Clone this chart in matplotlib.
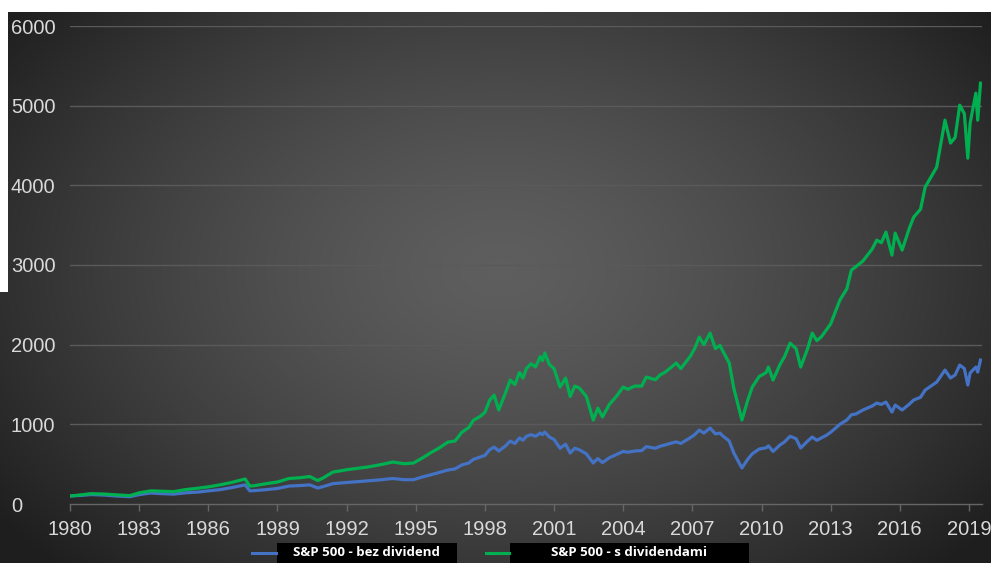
import numpy as np
import matplotlib
matplotlib.use("Agg")
import matplotlib.pyplot as plt
from matplotlib.patches import Rectangle
from matplotlib.lines import Line2D

# ---------------- data ----------------
years = [1980.0, 1980.5, 1980.9, 1981.5, 1982.0, 1982.6, 1983.0, 1983.5, 1984.0, 1984.5,
         1985.0, 1985.6, 1986.0, 1986.5, 1987.0, 1987.6, 1987.8, 1988.0, 1988.5, 1989.0,
         1989.5, 1990.0, 1990.4, 1990.75, 1991.0, 1991.4, 1992.0, 1992.9, 1993.5, 1994.0,
         1994.5, 1994.9, 1995.3, 1995.7, 1996.0, 1996.4, 1996.7, 1997.0, 1997.3, 1997.5,
         1997.8, 1998.0, 1998.2, 1998.4, 1998.6, 1998.9, 1999.1, 1999.3, 1999.5, 1999.65,
         1999.8, 2000.0, 2000.2, 2000.4, 2000.5, 2000.6, 2000.8, 2001.0, 2001.26, 2001.5,
         2001.7, 2001.9, 2002.1, 2002.4, 2002.7, 2002.8, 2002.9, 2003.1, 2003.4, 2003.7,
         2004.0, 2004.2, 2004.5, 2004.8, 2005.0, 2005.4, 2005.6, 2005.8, 2006.1, 2006.3,
         2006.5, 2006.9, 2007.1, 2007.3, 2007.5, 2007.77, 2008.0, 2008.2, 2008.3, 2008.6,
         2008.8, 2009.15, 2009.4, 2009.6, 2009.9, 2010.2, 2010.3, 2010.5, 2010.8, 2011.0,
         2011.24, 2011.5, 2011.7, 2012.0, 2012.2, 2012.4, 2012.6, 2012.8, 2013.0, 2013.4,
         2013.7, 2013.9, 2014.1, 2014.4, 2014.8, 2015.0, 2015.2, 2015.4, 2015.66, 2015.8,
         2016.1, 2016.4, 2016.6, 2016.9, 2017.1, 2017.6, 2017.96, 2018.2, 2018.4, 2018.6,
         2018.8, 2018.95, 2019.05, 2019.3, 2019.38, 2019.5]

with_div = [100, 115, 130, 125, 115, 105, 140, 165, 160, 155,
            180, 200, 215, 240, 270, 314, 225, 230, 255, 276,
            320, 330, 345, 295, 330, 400, 430, 464, 495, 527,
            505, 514, 580, 652, 700, 778, 790, 900, 960, 1050,
            1100, 1150, 1300, 1367, 1180, 1400, 1556, 1500, 1650, 1580,
            1700, 1760, 1720, 1850, 1800, 1895, 1750, 1700, 1468, 1580,
            1350, 1480, 1455, 1350, 1054, 1130, 1204, 1092, 1250, 1350,
            1468, 1440, 1480, 1480, 1593, 1560, 1620, 1650, 1720, 1769,
            1700, 1850, 1950, 2095, 2000, 2145, 1950, 1990, 1932, 1769,
            1450, 1054, 1300, 1468, 1600, 1650, 1719, 1556, 1750, 1850,
            2020, 1950, 1719, 1950, 2145, 2050, 2100, 2180, 2260, 2560,
            2700, 2936, 2980, 3050, 3200, 3312, 3280, 3413, 3124, 3400,
            3187, 3450, 3600, 3700, 3977, 4228, 4818, 4530, 4600, 5006,
            4900, 4341, 4780, 5157, 4818, 5282]

no_div = [100, 108, 118, 112, 100, 92, 118, 138, 130, 124,
          140, 151, 165, 180, 205, 240, 165, 168, 180, 195,
          225, 232, 240, 201, 220, 255, 270, 290, 305, 320,
          305, 305, 340, 370, 395, 427, 440, 490, 515, 560,
          590, 610, 680, 715, 665, 730, 790, 760, 830, 800,
          850, 870, 850, 890, 870, 903, 840, 810, 700, 750,
          640, 700, 680, 630, 514, 545, 570, 520, 580, 620,
          660, 650, 665, 670, 720, 700, 725, 740, 765, 780,
          760, 830, 870, 928, 890, 954, 880, 890, 860, 790,
          640, 452, 560, 630, 690, 705, 730, 660, 740, 780,
          850, 820, 703, 790, 841, 800, 830, 860, 900, 1000,
          1054, 1120, 1130, 1180, 1230, 1267, 1250, 1280, 1154, 1242,
          1180, 1250, 1305, 1340, 1430, 1530, 1681, 1581, 1620, 1744,
          1700, 1493, 1644, 1719, 1656, 1807]

x_ticks = [1980, 1983, 1986, 1989, 1992, 1995, 1998, 2001, 2004, 2007, 2010, 2013, 2016, 2019]
y_ticks = [0, 1000, 2000, 3000, 4000, 5000, 6000]
series_labels = ["S&P 500 - bez dividend", "S&P 500 - s dividendami"]

# ---------------- figure ----------------
W, H = 991, 563
fig = plt.figure(figsize=(W / 100, H / 100), dpi=100)
fig.patch.set_facecolor("white")

# radial gradient background
bg = fig.add_axes([0, 0, 1, 1])
bg.set_axis_off()
yy, xx = np.mgrid[0:H, 0:W]
d = np.sqrt(((xx - 500) / 620.0) ** 2 + ((yy - 270) / 420.0) ** 2)
d = np.clip(d, 0, 1)
c0, c1 = 0.37, 0.12
img = c0 + (c1 - c0) * d ** 1.4
bg.imshow(np.dstack([img, img, img]), extent=[0, W, H, 0], aspect="auto",
          interpolation="bilinear")
bg.set_xlim(0, W)
bg.set_ylim(H, 0)
# white borders of the screenshot
bg.add_patch(Rectangle((0, 0), W, 12, facecolor="white", edgecolor="none"))
bg.add_patch(Rectangle((0, 0), 7.5, 292, facecolor="white", edgecolor="none"))

# main axes
px_per_year = 23.05
x0px, x1px = 70, 982
y0px, y1px = 504, 26
ax = fig.add_axes([x0px / W, (H - y0px) / H, (x1px - x0px) / W, (y0px - y1px) / H])
ax.patch.set_alpha(0)
ax.set_xlim(1980, 1980 + (x1px - x0px) / px_per_year)
ax.set_ylim(0, 6000)

ax.plot(years, no_div, color="#4472C4", lw=2.3, solid_joinstyle="round", zorder=3)
ax.plot(years, with_div, color="#00B050", lw=2.3, solid_joinstyle="round", zorder=4)

grid_col = "#5a5a5a"
for v in y_ticks[1:]:
    ax.axhline(v, color=grid_col, lw=1.0, zorder=1)
for s in ["top", "right", "left"]:
    ax.spines[s].set_visible(False)
ax.spines["bottom"].set_color("#666666")
ax.spines["bottom"].set_linewidth(1.0)

ax.set_xticks(x_ticks)
ax.set_xticklabels([str(t) for t in x_ticks])
ax.set_yticks(y_ticks)
ax.set_yticklabels([str(t) for t in y_ticks])
ax.tick_params(axis="x", colors="#666666", length=5, width=1, pad=6.5,
               labelcolor="#d9d9d9", labelsize=14.5)
ax.tick_params(axis="y", length=0, pad=42.5, labelcolor="#d9d9d9", labelsize=14.5)
for lab in ax.get_yticklabels():
    lab.set_horizontalalignment("left")
for lab in ax.get_xticklabels() + ax.get_yticklabels():
    lab.set_family(["Liberation Sans", "DejaVu Sans"])

# legend drawn in pixel space
ly = 553
bg.add_line(Line2D([252, 276], [ly, ly], color="#4472C4", lw=2.2))
bg.add_patch(Rectangle((277, 543), 180, 20, facecolor="black", edgecolor="none"))
bg.text(366, ly, series_labels[0], color="white", fontsize=9.5, fontweight="bold",
        ha="center", va="center", family=["Open Sans", "DejaVu Sans"])
bg.add_line(Line2D([486, 509], [ly, ly], color="#00B050", lw=2.2))
bg.add_patch(Rectangle((510, 543), 239, 20, facecolor="black", edgecolor="none"))
bg.text(629, ly, series_labels[1], color="white", fontsize=9.5, fontweight="bold",
        ha="center", va="center", family=["Open Sans", "DejaVu Sans"])

fig.savefig("out.png", dpi=100, facecolor=fig.get_facecolor())
